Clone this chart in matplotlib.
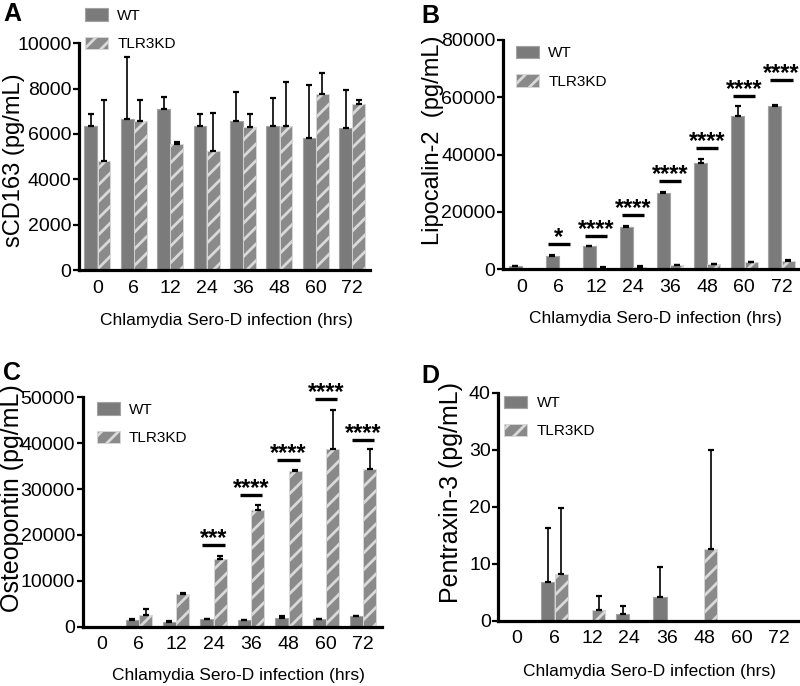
import numpy as np
import matplotlib
matplotlib.use('Agg')
import matplotlib.pyplot as plt
from matplotlib import font_manager

hours = ['0', '6', '12', '24', '36', '48', '60', '72']
groups = ['WT', 'TLR3KD']

# A: sCD163 (pg/mL)
scd163_wt = [6340, 6640, 7110, 6340, 6590, 6370, 5810, 6270]
scd163_wt_sd = [520, 2770, 500, 520, 1260, 1200, 2360, 1690]
scd163_kd = [4790, 6560, 5560, 5240, 6310, 6370, 7770, 7340]
scd163_kd_sd = [2700, 930, 70, 1690, 580, 1920, 920, 150]

# B: Lipocalin-2 (pg/mL)
lcn2_wt = [1000, 4650, 8100, 14900, 26600, 37200, 53600, 57100]
lcn2_wt_sd = [200, 400, 150, 150, 300, 1400, 3500, 200]
lcn2_kd = [0, 0, 600, 900, 1500, 1800, 2400, 2900]
lcn2_kd_sd = [0, 0, 100, 150, 150, 150, 150, 200]
lcn2_sig_idx = [1, 2, 3, 4, 5, 6, 7]
lcn2_sig_y = [8700, 11700, 18800, 30700, 42400, 60400, 66000]
lcn2_sig_txt = ['*', '****', '****', '****', '****', '****', '****']

# C: Osteopontin (pg/mL)
opn_wt = [0, 1450, 1100, 1600, 1450, 1960, 1670, 2300]
opn_wt_sd = [0, 150, 150, 100, 50, 400, 100, 100]
opn_kd = [0, 2500, 7200, 14750, 25400, 33900, 38700, 34400]
opn_kd_sd = [0, 1300, 100, 750, 1100, 150, 8500, 4300]
opn_sig_idx = [3, 4, 5, 6, 7]
opn_sig_y = [17800, 28750, 36250, 49600, 40750]
opn_sig_txt = ['***', '****', '****', '****', '****']

# D: Pentraxin-3 (pg/mL)
ptx3_wt = [0, 6.8, 0, 1.1, 4.1, 0, 0, 0]
ptx3_wt_sd = [0, 9.5, 0, 1.4, 5.3, 0, 0, 0]
ptx3_kd = [0, 8.2, 1.8, 0, 0, 12.5, 0, 0]
ptx3_kd_sd = [0, 11.5, 2.5, 0, 0, 17.5, 0, 0]

# narrow Arial-like face if the system has one, else regular width
try:
    font_manager.findfont('Liberation Sans Narrow', fallback_to_default=False)
    narrow = True
except ValueError:
    narrow = False

plt.rcParams['font.family'] = 'Liberation Sans Narrow' if narrow else 'Liberation Sans'
plt.rcParams['hatch.linewidth'] = 2.0
tick_fs = 15 if narrow else 14
xlab_fs = 15 if narrow else 12.5
leg_fs = 12.5 if narrow else 11
leg_px = leg_fs * 100 / 72

WT_COL = '#7b7b7b'
KD_COL = '#8a8a8a'

fig = plt.figure(figsize=(8, 6.86), dpi=100)


def panel(rect, wt, wt_sd, kd, kd_sd, ymax, ystep, ylabel, ylab_fs,
          ylab_xy, xlab_xy, leg_xy, sig=None):
    ax = fig.add_axes(rect)
    x = np.arange(len(hours))
    w = 0.35
    b1 = ax.bar(x - 0.18, wt, w, color=WT_COL, edgecolor='#a3a3a3', linewidth=0.8, zorder=2)
    b2 = ax.bar(x + 0.18, kd, w, color=KD_COL, edgecolor='#d9d9d9', linewidth=0.6,
                hatch='//', zorder=2)
    for xs, v, e in [(x - 0.18, wt, wt_sd), (x + 0.18, kd, kd_sd)]:
        v = np.asarray(v, float)
        e = np.asarray(e, float)
        m = e > 0
        ax.errorbar(xs[m], v[m], yerr=[np.zeros(m.sum()), e[m]], fmt='none',
                    ecolor='black', elinewidth=1.2, capsize=2.5, capthick=1.6, zorder=3)

    if sig is not None:
        for i, yv, s in zip(*sig):
            ax.plot([i - 0.3, i + 0.3], [yv, yv], color='black', lw=2.4,
                    solid_capstyle='butt', clip_on=False, zorder=4)
            ax.text(i, yv, s, ha='center', va='baseline', fontsize=17,
                    fontweight='bold', family='Liberation Sans', clip_on=False)

    ax.set_xlim(-0.5, len(hours) - 0.5)
    ax.set_ylim(0, ymax)
    ax.set_yticks(np.arange(0, ymax + 1, ystep))
    ax.set_xticks(x)
    ax.set_xticklabels(hours)
    for s in ['top', 'right']:
        ax.spines[s].set_visible(False)
    for s in ['left', 'bottom']:
        ax.spines[s].set_linewidth(2.3)
    ax.tick_params(axis='y', direction='out', length=4, width=1.6, pad=1.5,
                   labelsize=tick_fs)
    ax.tick_params(axis='x', length=0, pad=7, labelsize=tick_fs)

    ax.set_ylabel(ylabel, fontsize=ylab_fs, family='Liberation Sans', va='center')
    ax.yaxis.set_label_coords(*ylab_xy)
    ax.set_xlabel('Chlamydia Sero-D infection (hrs)', fontsize=xlab_fs, va='baseline')
    ax.xaxis.set_label_coords(*xlab_xy)

    ax.legend([b1, b2], groups, loc='upper left', bbox_to_anchor=leg_xy,
              frameon=False, borderpad=0, borderaxespad=0, fontsize=leg_fs,
              handlelength=23 / leg_px, handleheight=13 / leg_px,
              handletextpad=0.6, labelspacing=0.92)
    return ax


panel([0.099, 0.6064, 0.364, 0.3305], scd163_wt, scd163_wt_sd, scd163_kd, scd163_kd_sd,
      10000, 2000, 'sCD163 (pg/mL)', 17, (-0.225, 0.485), (0.505, -0.2426),
      (0.02, 1.154))
panel([0.629, 0.6074, 0.371, 0.3343], lcn2_wt, lcn2_wt_sd, lcn2_kd, lcn2_kd_sd,
      80000, 20000, 'Lipocalin-2  (pg/mL)', 17, (-0.235, 0.564), (0.512, -0.233),
      (0.044, 0.974), sig=(lcn2_sig_idx, lcn2_sig_y, lcn2_sig_txt))
panel([0.1034, 0.0864, 0.374, 0.3345], opn_wt, opn_wt_sd, opn_kd, opn_kd_sd,
      50000, 10000, 'Osteopontin (pg/mL)', 18, (-0.235, 0.56), (0.519, -0.231),
      (0.047, 0.978), sig=(opn_sig_idx, opn_sig_y, opn_sig_txt))
panel([0.623, 0.0952, 0.374, 0.3324], ptx3_wt, ptx3_wt_sd, ptx3_kd, ptx3_kd_sd,
      40, 10, 'Pentraxin-3 (pg/mL)', 18, (-0.16, 0.56), (0.504, -0.244),
      (0.02, 0.987))

for lbl, xp, yp in [('A', 3, 2), ('B', 421, 4), ('C', 3, 361), ('D', 421, 364)]:
    fig.text(xp / 800, 1 - yp / 686, lbl, ha='left', va='top', fontsize=18,
             fontweight='bold', family='Liberation Sans')

fig.savefig('out.png', dpi=100)
